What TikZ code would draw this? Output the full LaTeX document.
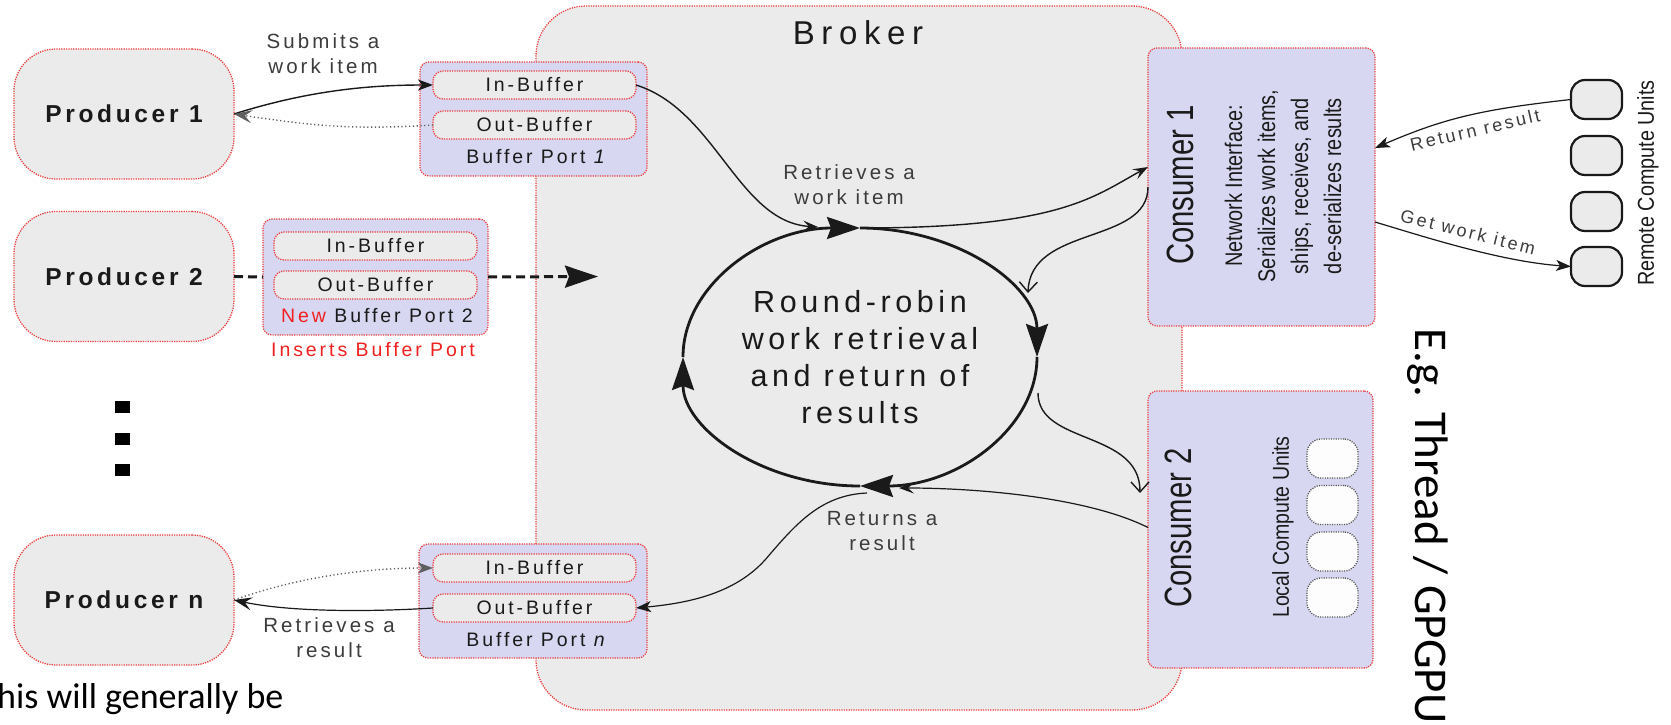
\documentclass[tikz,border=0pt]{standalone}
\usepackage{fontspec}
\usepackage{graphicx}
\setmainfont{Liberation Sans}
\newfontfamily\trk[LetterSpace=15]{Liberation Sans}
\newfontfamily\trkw[LetterSpace=20]{Liberation Sans}
\newfontfamily\calib{Carlito}
\usetikzlibrary{arrows.meta,shapes.geometric}
\definecolor{boxgray}{HTML}{EBEBEB}
\definecolor{lav}{HTML}{D7D7F1}
\definecolor{bred}{HTML}{EC3A3A}
\definecolor{nred}{HTML}{F02020}
\definecolor{ink}{HTML}{1A1A1A}
\tikzset{
 redline/.style={draw=bred, line width=1.3pt, dash pattern=on 1.2pt off 1.2pt},
 producer/.style={redline, fill=boxgray, rounded corners=42pt, minimum width=220pt, minimum height=130pt, inner sep=0pt, outer sep=0pt, text=ink, font=\trk\bfseries\fontsize{24.5}{28}\selectfont},
 port/.style={redline, fill=lav, rounded corners=9pt, inner sep=0pt, outer sep=0pt},
 buf/.style={redline, fill=boxgray, rounded corners=10pt, minimum width=203pt, minimum height=28pt, inner sep=0pt, outer sep=0pt, text=ink, font=\trk\fontsize{19.5}{22}\selectfont},
 porttxt/.style={inner sep=0pt, text=ink, font=\trk\fontsize{19.5}{22}\selectfont},
 broker/.style={redline, fill=boxgray, rounded corners=50pt, inner sep=0pt, outer sep=0pt},
 cons/.style={redline, fill=lav, rounded corners=9pt, minimum width=227pt, minimum height=278pt, inner sep=0pt, outer sep=0pt},
 rcu/.style={draw=ink, line width=2.2pt, fill=boxgray, rounded corners=14pt, minimum width=51pt, minimum height=39pt, inner sep=0pt, outer sep=0pt},
 lcu/.style={draw=ink!75, line width=1.3pt, dash pattern=on 1.1pt off 1.3pt, fill=white!94!lav, rounded corners=14pt, minimum width=51pt, minimum height=39pt, inner sep=0pt, outer sep=0pt},
 lbl/.style={inner sep=0pt, align=center, text=ink!85, font=\trk\fontsize{20.5}{25}\selectfont},
 vtxt/.style={inner sep=0pt, rotate=90, text=ink},
 conn/.style={draw=ink, line width=1.4pt},
 dotconn/.style={draw=ink!70, line width=1.4pt, dash pattern=on 1.2pt off 2.6pt},
 dashconn/.style={draw=ink, line width=3pt, dash pattern=on 9pt off 5pt},
 ring/.style={draw=ink, line width=2.8pt},
 dotsq/.style={fill=black, minimum width=15pt, minimum height=12pt, inner sep=0pt},
 smallhead/.tip={Stealth[length=15pt,width=11pt,inset=4pt]},
 bighead/.tip={Stealth[length=33pt,width=22pt,inset=4pt]},
 vhead/.tip={Straight Barb[length=10pt,width=18pt]},
}
\begin{document}
\begin{tikzpicture}[x=1pt,y=-1pt]
\useasboundingbox (0,0) rectangle (1671,725);
\fill[white] (0,0) rectangle (1671,725);

% broker
\node[broker, minimum width=646pt, minimum height=704pt] (brk) at (859,358) {};
\node[inner sep=0pt, text=ink, font=\trkw\fontsize{33}{36}\selectfont] (btitle) at (858,33) {Broker};

% producers
\node[producer] (p1) at (124,114) {Producer 1};
\node[producer] (p2) at (124,276.5) {Producer 2};
\node[producer] (pn) at (124,600) {Producer n};
\node[dotsq] (d1) at (122,407) {};
\node[dotsq] (d2) at (122,439) {};
\node[dotsq] (d3) at (122,470) {};

% buffer port 1
\node[port, minimum width=227pt, minimum height=114pt] (b1) at (533.5,119) {};
\node[buf] (b1in) at (534.5,85) {In-Buffer};
\node[buf] (b1out) at (534.5,125) {Out-Buffer};
\node[porttxt] (b1t) at (537,157) {Buffer Port \textit{1}};

% buffer port 2
\node[port, minimum width=225pt, minimum height=116pt] (b2) at (375.5,277) {};
\node[buf] (b2in) at (375.5,246) {In-Buffer};
\node[buf] (b2out) at (375.5,285) {Out-Buffer};
\node[porttxt] (b2t) at (377,316) {\textcolor{nred}{New} Buffer Port 2};
\node[porttxt, text=nred] (ins) at (373,350) {Inserts Buffer Port};

% buffer port n
\node[port, minimum width=228pt, minimum height=114pt] (bn) at (533,601) {};
\node[buf] (bnin) at (534.5,568) {In-Buffer};
\node[buf] (bnout) at (534.5,608) {Out-Buffer};
\node[porttxt] (bnt) at (537,640) {Buffer Port \textit{n}};

% consumers
\node[cons] (c1) at (1261.5,187) {};
\node[cons, minimum width=225pt, minimum height=277pt] (c2) at (1260.5,529.5) {};
\node[vtxt] (c1t) at (1180,185) {\fontsize{38}{40}\selectfont\scalebox{0.77}[1]{Consumer 1}};
\node[vtxt] (c1net) at (1285,186) {\fontsize{24}{33}\selectfont\scalebox{0.83}[1]{\begin{tabular}{@{}c@{}}Network Interface:\\Serializes work items,\\ships, receives, and\\de-serializes results\end{tabular}}};
\node[vtxt] (c2t) at (1178,528) {\fontsize{38}{40}\selectfont\scalebox{0.77}[1]{Consumer 2}};
\node[vtxt] (lcut) at (1283,527) {\fontsize{23}{26}\selectfont\scalebox{0.85}[1]{Local Compute Units}};
\node[lcu] (l1) at (1332.5,458.5) {};
\node[lcu] (l2) at (1332.5,505) {};
\node[lcu] (l3) at (1332.5,551.5) {};
\node[lcu] (l4) at (1332.5,597.5) {};

% remote units
\node[rcu] (r1) at (1596.5,99.5) {};
\node[rcu] (r2) at (1596.5,155.5) {};
\node[rcu] (r3) at (1596.5,211.5) {};
\node[rcu] (r4) at (1596.5,266.5) {};
\node[vtxt] (rcut) at (1648,183) {\fontsize{23}{26}\selectfont\scalebox{0.86}[1]{Remote Compute Units}};

% side texts
\node[inner sep=0pt, anchor=base, rotate=-90, text=black, font=\calib\fontsize{47}{50}\selectfont] (eg) at (1415,526) {E.g. Thread / GPGPU};
\node[inner sep=0pt, anchor=base west, text=black, font=\calib\fontsize{36}{40}\selectfont] (this) at (-3,708) {his will generally be};

% round robin ring
\node[ellipse, minimum width=354pt, minimum height=258pt, inner sep=0pt, outer sep=0pt, align=center, text=ink, font=\trk\fontsize{30.5}{37}\selectfont] (rr) at (860,357) {Round-robin\\work retrieval\\and return of\\results};
\draw[ring, -bighead] (rr.south) arc[start angle=-90, end angle=-180, x radius=177pt, y radius=129pt];
\draw[ring, -bighead] (rr.west) arc[start angle=180, end angle=90, x radius=177pt, y radius=129pt];
\draw[ring, -bighead] (rr.north) arc[start angle=90, end angle=0, x radius=177pt, y radius=129pt];
\draw[ring, -bighead] (rr.east) arc[start angle=0, end angle=-90, x radius=177pt, y radius=129pt];

\coordinate (rrin) at (818,227);
\coordinate (rrout) at (1038,393);
\coordinate (rrc1) at (1028,293);
\coordinate (rrback) at (899,488);
\coordinate (rrres) at (867,493);
\coordinate (c2in) at (1140,493);
\coordinate (dashend) at (598,276.5);

% labels
\node[lbl] (submits) at (323,54) {Submits a\\work item};
\node[lbl] (retw) at (849,185) {Retrieves a\\work item};
\node[lbl] (retsr) at (882,531) {Returns a\\result};
\node[lbl] (retr) at (329,638) {Retrieves a\\result};
\node[lbl, font=\trk\fontsize{18}{20}\selectfont, rotate=13] (rres) at (1475,130) {Return result};
\node[lbl, font=\trk\fontsize{18}{20}\selectfont, rotate=-14] (gwi) at (1468,232) {Get work item};

% connectors
\draw[conn, -smallhead] (p1.east) .. controls +(70,-22) and +(-70,0) .. (b1in.west);
\draw[dotconn, -{Stealth[length=18pt,width=13pt,inset=7pt]}] (b1out.west) .. controls +(-80,5) and +(80,12) .. (p1.east);
\draw[conn, -{Stealth[length=15pt,width=11pt,inset=6pt]}] (b1in.east) .. controls +(80,25) and +(-80,-5) .. (rrin);
\draw[conn, -{Stealth[length=15pt,width=11pt,inset=6pt]}] (rr.north) .. controls +(200,0) and +(-55,30) .. ([yshift=20pt]c1.west);
\draw[conn, -vhead] (c1.west) .. controls +(0,58) and +(2,-68) .. (rrc1);
\draw[conn, -vhead] (rrout) .. controls +(0,52) and +(0,-63) .. (c2in);
\draw[conn, line width=1.2pt, -{Stealth[length=15pt,width=11pt,inset=6pt]}] ([yshift=2pt]c2.west) .. controls +(-60,-30) and +(80,0) .. (rrback);
\draw[conn, line width=1.2pt, -smallhead] (rrres) .. controls (820,495) and (795,525) .. (765,560) .. controls (735,593) and (690,603) .. (bnout.east);
\draw[dotconn, -smallhead] (pn.east) .. controls +(70,-25) and +(-60,0) .. (bnin.west);
\draw[conn, line width=1.2pt, -{Stealth[length=18pt,width=13pt,inset=7pt]}] (bnout.west) .. controls +(-63,4) and +(56,12) .. (pn.east);
\draw[dashconn] (p2.east) -- (b2.west);
\draw[dashconn, -bighead] (b2.east) -- (dashend);
\draw[conn, line width=1.2pt, -smallhead] (r1.west) .. controls +(-90,10) and +(70,-30) .. ([yshift=39pt]c1.east);
\draw[conn, line width=1.2pt, -smallhead] ([yshift=-35pt]c1.east) .. controls +(50,15) and +(-70,-5) .. (r4.west);
\end{tikzpicture}
\end{document}
